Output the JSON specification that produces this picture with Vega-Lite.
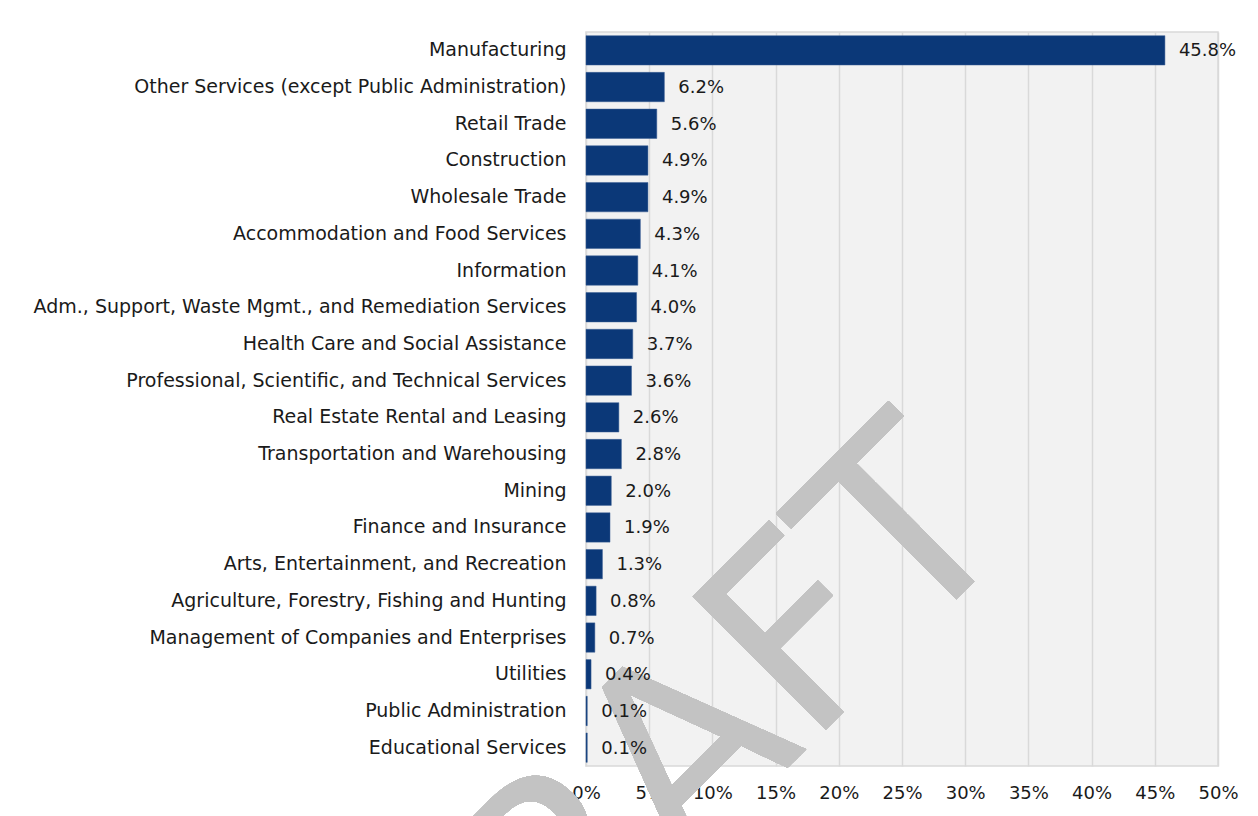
{
  "$schema": "https://vega.github.io/schema/vega-lite/v6.json",
  "autosize": {"type": "none"},
  "width": 632,
  "height": 734,
  "padding": {"left": 586, "top": 32, "right": 40, "bottom": 50},
  "background": "#ffffff",
  "config": {
    "view": {"fill": "#f2f2f2", "stroke": "#d9d9d9", "strokeWidth": 1.5},
    "font": "DejaVu Sans"
  },
  "data": {
    "values": [
      {"industry": "Manufacturing", "share": 0.458},
      {"industry": "Other Services (except Public Administration)", "share": 0.062},
      {"industry": "Retail Trade", "share": 0.056},
      {"industry": "Construction", "share": 0.049},
      {"industry": "Wholesale Trade", "share": 0.049},
      {"industry": "Accommodation and Food Services", "share": 0.043},
      {"industry": "Information", "share": 0.041},
      {"industry": "Adm., Support, Waste Mgmt., and Remediation Services", "share": 0.040},
      {"industry": "Health Care and Social Assistance", "share": 0.037},
      {"industry": "Professional, Scientific, and Technical Services", "share": 0.036},
      {"industry": "Real Estate Rental and Leasing", "share": 0.026},
      {"industry": "Transportation and Warehousing", "share": 0.028},
      {"industry": "Mining", "share": 0.020},
      {"industry": "Finance and Insurance", "share": 0.019},
      {"industry": "Arts, Entertainment, and Recreation", "share": 0.013},
      {"industry": "Agriculture, Forestry, Fishing and Hunting", "share": 0.008},
      {"industry": "Management of Companies and Enterprises", "share": 0.007},
      {"industry": "Utilities", "share": 0.004},
      {"industry": "Public Administration", "share": 0.001},
      {"industry": "Educational Services", "share": 0.001}
    ]
  },
  "encoding": {
    "y": {
      "field": "industry",
      "type": "nominal",
      "sort": null,
      "scale": {
        "domain": [
          "Manufacturing",
          "Other Services (except Public Administration)",
          "Retail Trade",
          "Construction",
          "Wholesale Trade",
          "Accommodation and Food Services",
          "Information",
          "Adm., Support, Waste Mgmt., and Remediation Services",
          "Health Care and Social Assistance",
          "Professional, Scientific, and Technical Services",
          "Real Estate Rental and Leasing",
          "Transportation and Warehousing",
          "Mining",
          "Finance and Insurance",
          "Arts, Entertainment, and Recreation",
          "Agriculture, Forestry, Fishing and Hunting",
          "Management of Companies and Enterprises",
          "Utilities",
          "Public Administration",
          "Educational Services"
        ],
        "paddingInner": 0.2,
        "paddingOuter": 0.1
      },
      "axis": {
        "title": null,
        "ticks": false,
        "domain": false,
        "labelPadding": 20,
        "labelFontSize": 19,
        "labelColor": "#1a1a1a",
        "labelLimit": 600
      }
    },
    "x": {
      "field": "share",
      "type": "quantitative",
      "scale": {"domain": [0, 0.5], "nice": false},
      "axis": {
        "title": null,
        "format": ".0%",
        "values": [0, 0.05, 0.1, 0.15, 0.2, 0.25, 0.3, 0.35, 0.4, 0.45, 0.5],
        "ticks": false,
        "domain": false,
        "grid": true,
        "gridColor": "#d9d9d9",
        "gridWidth": 1.5,
        "labelFlush": false,
        "labelPadding": 18,
        "labelFontSize": 18,
        "labelColor": "#1a1a1a"
      }
    }
  },
  "layer": [
    {
      "mark": {
        "type": "text",
        "text": "DRAFT",
        "font": "DejaVu Sans",
        "fontSize": 258,
        "angle": 315,
        "align": "right",
        "baseline": "alphabetic",
        "color": "#c3c3c3",
        "yOffset": 7
      },
      "encoding": {
        "x": {"datum": 0.3441, "type": "quantitative"},
        "y": {"datum": "Finance and Insurance", "type": "nominal"}
      }
    },
    {
      "mark": {"type": "bar", "color": "#0b3878", "stroke": "#3a5f95", "strokeWidth": 0.5}
    },
    {
      "mark": {
        "type": "text",
        "align": "left",
        "baseline": "middle",
        "dx": 14,
        "dy": 1,
        "fontSize": 18,
        "color": "#1a1a1a"
      },
      "encoding": {
        "text": {"field": "share", "type": "quantitative", "format": ".1%"}
      }
    }
  ]
}
